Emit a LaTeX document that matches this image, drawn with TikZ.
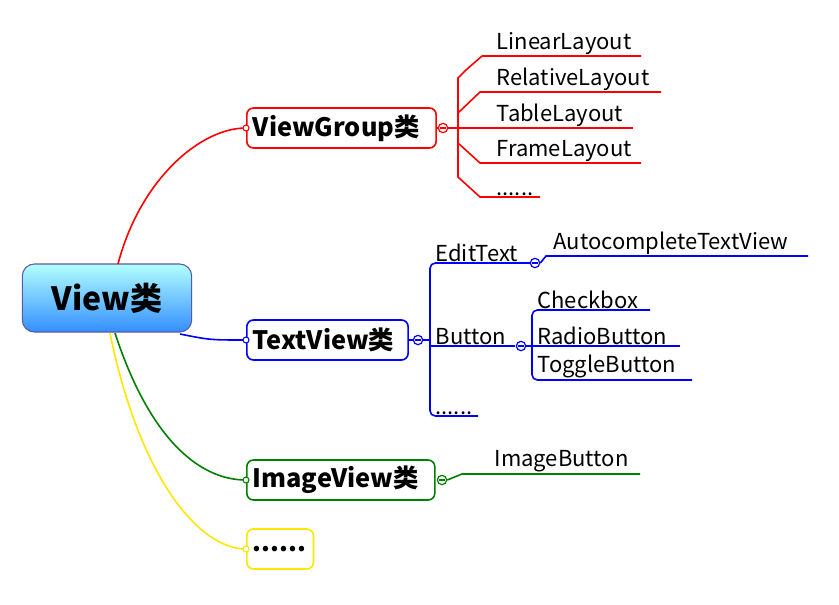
\documentclass[tikz,border=0pt]{standalone}
\usepackage{fontspec}
\setmainfont{Noto Sans CJK SC}
\begin{document}
\begin{tikzpicture}[x=0.75pt,y=-0.75pt,
  topic/.style={draw,line width=1.2pt,rounded corners=5pt,fill=white,font=\fontsize{19}{21}\selectfont\bfseries,inner sep=0pt,minimum height=30pt,anchor=west,text width=#1-9pt,minimum width=#1,align=left},
  lab/.style={font=\fontsize{16.5}{18}\selectfont,anchor=south west,inner sep=1pt},
  minus/.style={circle,draw,fill=white,line width=0.9pt,minimum size=7pt,inner sep=0pt,path picture={\draw[line width=0.8pt] ([xshift=-2pt]path picture bounding box.center)--([xshift=2pt]path picture bounding box.center);}},
  dot/.style={circle,draw,fill=white,line width=0.8pt,minimum size=4.5pt,inner sep=0pt},
  lk/.style={line width=1.2pt}]
\useasboundingbox (0,0) rectangle (839,604);
% root
\node[draw=gray!70!blue,line width=0.8pt,rounded corners=9pt,top color=cyan!30,bottom color=blue!55!cyan!80,minimum width=127pt,minimum height=51pt,font=\fontsize{24}{26}\selectfont\bfseries] (root) at (107,298) {View类};
% topics
\node[topic=142pt,draw=red] (vg) at (246,128) {ViewGroup类};
\node[topic=121pt,draw=blue] (tv) at (246,340) {TextView类};
\node[topic=141pt,draw=green!50!black] (iv) at (246,480) {ImageView类};
\node[topic=50pt,draw=yellow!90!orange] (dd) at (246,549) {......};
% root links
\draw[lk,red] (118,264) .. controls (140,180) and (200,128) .. (vg.west);
\draw[lk,blue] (180,334) .. controls (210,340) .. (tv.west);
\draw[lk,green!50!black] (115,333) .. controls (150,440) and (200,480) .. (iv.west);
\draw[lk,yellow!90!orange] (110,333) .. controls (140,480) and (200,549) .. (dd.west);
\node[dot,draw=red] at (vg.west) {};
\node[dot,draw=blue] at (tv.west) {};
\node[dot,draw=green!50!black] at (iv.west) {};
\node[dot,draw=yellow!90!orange] at (dd.west) {};
% ViewGroup children
\coordinate (r1) at (633,128);
\draw[lk,red] (vg.east)--(r1);
\draw[lk,red] (482,56)--(466,70)--(458,78)--(458,177)--(480,197)--(540,197);
\draw[lk,red] (482,56)--(641,56) (458,113)--(480,92)--(661,92) (458,143)--(480,163)--(641,163);
\node[minus,draw=red] (vgm) at (443,128) {};
\node[lab] (a1) at (495,56) {LinearLayout};
\node[lab] (a2) at (495,92) {RelativeLayout};
\node[lab] (a3) at (495,128) {TableLayout};
\node[lab] (a4) at (495,163) {FrameLayout};
\node[lab] (a5) at (495,197) {......};
% TextView children
\draw[lk,blue] (tv.east)--(430,340);
\draw[lk,blue,rounded corners=4pt] (530,263)--(430,263)--(430,416)--(478,416);
\draw[lk,blue] (430,346)--(515,346);
\node[minus,draw=blue] (tvm) at (418,340) {};
\node[lab] (b1) at (434,263) {EditText};
\node[lab] (b2) at (434,346) {Button};
\node[lab] (b3) at (434,416) {......};
\node[minus,draw=blue] (etm) at (535,263) {};
\draw[lk,blue] (etm.east)--(546,256)--(808,256);
\node[lab] (c1) at (552,256) {AutocompleteTextView};
\draw[lk,blue,rounded corners=4pt] (650,310)--(532,310)--(532,380)--(692,380);
\draw[lk,blue] (526,346)--(680,346);
\node[minus,draw=blue] (bm) at (521,346) {};
\node[lab] (d1) at (536,310) {Checkbox};
\node[lab] (d2) at (536,346) {RadioButton};
\node[lab] (d3) at (536,380) {ToggleButton};
% ImageView children
\node[minus,draw=green!50!black] (ivm) at (442,480) {};
\draw[lk,green!50!black] (ivm.east)--(462,474)--(640,474);
\node[lab] (e1) at (493,474) {ImageButton};
\end{tikzpicture}
\end{document}
